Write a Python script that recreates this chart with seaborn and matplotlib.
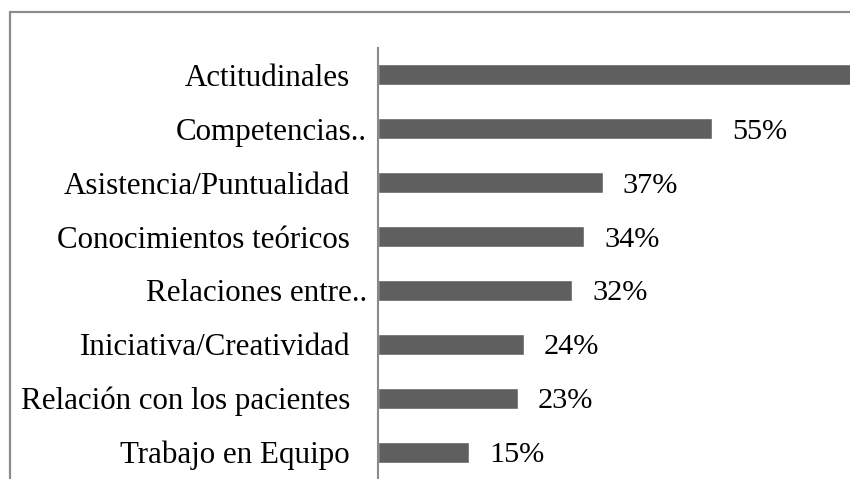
import matplotlib
matplotlib.use("Agg")
import matplotlib.pyplot as plt
import seaborn as sns
import pandas as pd
from matplotlib.lines import Line2D

categories = ["Actitudinales", "Competencias..", "Asistencia/Puntualidad",
              "Conocimientos teóricos", "Relaciones entre..",
              "Iniciativa/Creatividad", "Relación con los pacientes",
              "Trabajo en Equipo"]
values = [85, 55, 37, 34, 32, 24, 23, 15]
value_labels = [f"{v}%" for v in values]

sns.set_theme(style="white")
plt.rcParams['font.family'] = ['Liberation Serif', 'DejaVu Serif']

W, H = 850, 479
fig = plt.figure(figsize=(8.5, 4.79), dpi=100)
ax = fig.add_axes([378 / W, 0, 1 - 378 / W, (479 - 48) / H])

df = pd.DataFrame({"cat": categories, "val": values})
sns.barplot(data=df, x="val", y="cat", order=categories, color="#5f5f5f",
            saturation=1, width=0.39, ax=ax)
ax.set_xlim(0, 472 / 6.07)
ax.set_ylim(7.5, -0.5)

for s in ["top", "right", "bottom"]:
    ax.spines[s].set_visible(False)
ax.spines["left"].set_color("#8a8a8a")
ax.spines["left"].set_linewidth(1.5)
ax.set_xticks([])
ax.set_yticks([])
ax.set_xlabel("")
ax.set_ylabel("")

for i, cat in enumerate(categories):
    xr = -0.0233 if cat.endswith("..") else -0.0593
    ax.text(xr, i, cat, transform=ax.get_yaxis_transform(), ha="right",
            va="center_baseline", fontsize=22.3, color="#000000")

texts = ax.bar_label(ax.containers[0], labels=value_labels, padding=14.4,
                     fontsize=21.8, color="#000000")
for t in texts:
    t.set_va("center_baseline")

fig.add_artist(Line2D([10 / W, 1], [1 - 12 / H] * 2, transform=fig.transFigure,
                      color="#8c8c8c", lw=1.6))
fig.add_artist(Line2D([10 / W] * 2, [0, 1 - 12 / H], transform=fig.transFigure,
                      color="#8c8c8c", lw=1.6))

fig.savefig("out.png", dpi=100)
